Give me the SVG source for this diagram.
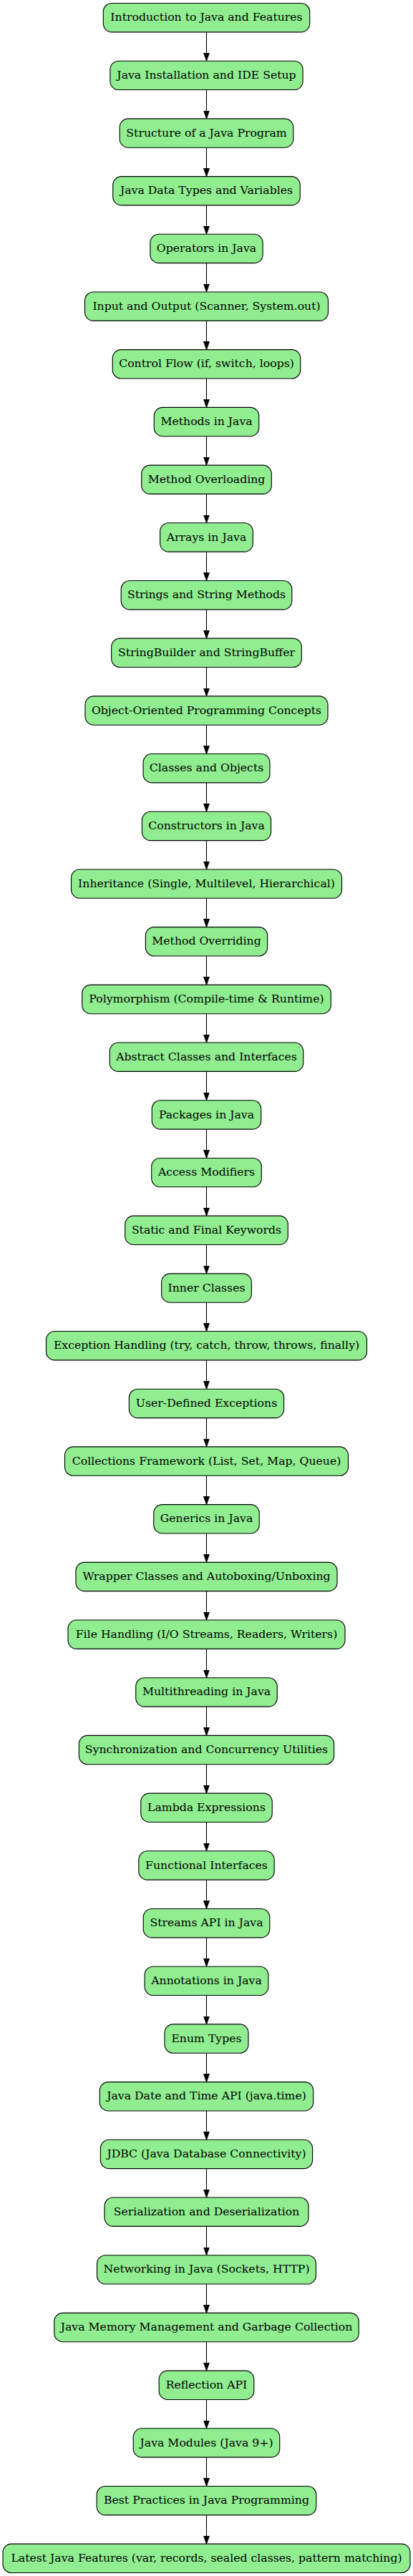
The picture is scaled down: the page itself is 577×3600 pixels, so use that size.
<svg xmlns="http://www.w3.org/2000/svg" width="577" height="3600" viewBox="0 0 577 3600">
<style>
.node rect{fill:#90ee90;stroke:#000;stroke-width:1.12}
.node text{font-family:"DejaVu Serif",serif;font-size:15.69px;text-anchor:middle;fill:#000}
.edges path{fill:none;stroke:#000;stroke-width:1.12;marker-end:url(#arr)}
</style>
<defs>
<marker id="arr" markerUnits="userSpaceOnUse" markerWidth="12" markerHeight="9" refX="11.2" refY="3.92" orient="auto" viewBox="0 0 12 8">
<path d="M0,0 L11.2,3.92 L0,7.84 z" fill="#000" stroke="#000" stroke-width="1"/>
</marker>
</defs>
<rect width="577" height="3600" fill="#fff"/>
<g class="edges">
<path d="M288.5,44.83 V85.19"/>
<path d="M288.5,125.53 V165.89"/>
<path d="M288.5,206.23 V246.58"/>
<path d="M288.5,286.92 V327.28"/>
<path d="M288.5,367.62 V407.98"/>
<path d="M288.5,448.32 V488.68"/>
<path d="M288.5,529.02 V569.37"/>
<path d="M288.5,609.71 V650.07"/>
<path d="M288.5,690.41 V730.77"/>
<path d="M288.5,771.11 V811.47"/>
<path d="M288.5,851.81 V892.16"/>
<path d="M288.5,932.50 V972.86"/>
<path d="M288.5,1013.20 V1053.56"/>
<path d="M288.5,1093.90 V1134.26"/>
<path d="M288.5,1174.60 V1214.95"/>
<path d="M288.5,1255.29 V1295.65"/>
<path d="M288.5,1335.99 V1376.35"/>
<path d="M288.5,1416.69 V1457.05"/>
<path d="M288.5,1497.39 V1537.74"/>
<path d="M288.5,1578.08 V1618.44"/>
<path d="M288.5,1658.78 V1699.14"/>
<path d="M288.5,1739.48 V1779.84"/>
<path d="M288.5,1820.18 V1860.53"/>
<path d="M288.5,1900.87 V1941.23"/>
<path d="M288.5,1981.57 V2021.93"/>
<path d="M288.5,2062.27 V2102.63"/>
<path d="M288.5,2142.97 V2183.33"/>
<path d="M288.5,2223.67 V2264.02"/>
<path d="M288.5,2304.36 V2344.72"/>
<path d="M288.5,2385.06 V2425.42"/>
<path d="M288.5,2465.76 V2506.12"/>
<path d="M288.5,2546.46 V2586.81"/>
<path d="M288.5,2627.15 V2667.51"/>
<path d="M288.5,2707.85 V2748.21"/>
<path d="M288.5,2788.55 V2828.91"/>
<path d="M288.5,2869.25 V2909.60"/>
<path d="M288.5,2949.94 V2990.30"/>
<path d="M288.5,3030.64 V3071.00"/>
<path d="M288.5,3111.34 V3151.70"/>
<path d="M288.5,3192.04 V3232.39"/>
<path d="M288.5,3272.73 V3313.09"/>
<path d="M288.5,3353.43 V3393.79"/>
<path d="M288.5,3434.13 V3474.49"/>
<path d="M288.5,3514.83 V3555.18"/>
</g>
<g id="n1" class="node" transform="translate(288.5,24.66)"><rect x="-144.2" y="-20.17" width="288.4" height="40.35" rx="12"/><text y="4.6">Introduction to Java and Features</text></g>
<g id="n2" class="node" transform="translate(288.5,105.36)"><rect x="-134.6" y="-20.17" width="269.2" height="40.35" rx="12"/><text y="4.6">Java Installation and IDE Setup</text></g>
<g id="n3" class="node" transform="translate(288.5,186.06)"><rect x="-121.3" y="-20.17" width="242.6" height="40.35" rx="12"/><text y="4.6">Structure of a Java Program</text></g>
<g id="n4" class="node" transform="translate(288.5,266.75)"><rect x="-130.75" y="-20.17" width="261.5" height="40.35" rx="12"/><text y="4.6">Java Data Types and Variables</text></g>
<g id="n5" class="node" transform="translate(288.5,347.45)"><rect x="-78.65" y="-20.17" width="157.3" height="40.35" rx="12"/><text y="4.6">Operators in Java</text></g>
<g id="n6" class="node" transform="translate(288.5,428.15)"><rect x="-170" y="-20.17" width="340" height="40.35" rx="12"/><text y="4.6">Input and Output (Scanner, System.out)</text></g>
<g id="n7" class="node" transform="translate(288.5,508.85)"><rect x="-131.25" y="-20.17" width="262.5" height="40.35" rx="12"/><text y="4.6">Control Flow (if, switch, loops)</text></g>
<g id="n8" class="node" transform="translate(288.5,589.54)"><rect x="-73.25" y="-20.17" width="146.5" height="40.35" rx="12"/><text y="4.6">Methods in Java</text></g>
<g id="n9" class="node" transform="translate(288.5,670.24)"><rect x="-90.8" y="-20.17" width="181.6" height="40.35" rx="12"/><text y="4.6">Method Overloading</text></g>
<g id="n10" class="node" transform="translate(288.5,750.94)"><rect x="-64.9" y="-20.17" width="129.8" height="40.35" rx="12"/><text y="4.6">Arrays in Java</text></g>
<g id="n11" class="node" transform="translate(288.5,831.64)"><rect x="-119.3" y="-20.17" width="238.6" height="40.35" rx="12"/><text y="4.6">Strings and String Methods</text></g>
<g id="n12" class="node" transform="translate(288.5,912.33)"><rect x="-132.85" y="-20.17" width="265.7" height="40.35" rx="12"/><text y="4.6">StringBuilder and StringBuffer</text></g>
<g id="n13" class="node" transform="translate(288.5,993.03)"><rect x="-169.5" y="-20.17" width="339" height="40.35" rx="12"/><text y="4.6">Object-Oriented Programming Concepts</text></g>
<g id="n14" class="node" transform="translate(288.5,1073.73)"><rect x="-88.45" y="-20.17" width="176.9" height="40.35" rx="12"/><text y="4.6">Classes and Objects</text></g>
<g id="n15" class="node" transform="translate(288.5,1154.43)"><rect x="-90.1" y="-20.17" width="180.2" height="40.35" rx="12"/><text y="4.6">Constructors in Java</text></g>
<g id="n16" class="node" transform="translate(288.5,1235.12)"><rect x="-189" y="-20.17" width="378" height="40.35" rx="12"/><text y="4.6">Inheritance (Single, Multilevel, Hierarchical)</text></g>
<g id="n17" class="node" transform="translate(288.5,1315.82)"><rect x="-85.15" y="-20.17" width="170.3" height="40.35" rx="12"/><text y="4.6">Method Overriding</text></g>
<g id="n18" class="node" transform="translate(288.5,1396.52)"><rect x="-173.8" y="-20.17" width="347.6" height="40.35" rx="12"/><text y="4.6">Polymorphism (Compile-time &amp; Runtime)</text></g>
<g id="n19" class="node" transform="translate(288.5,1477.22)"><rect x="-135.25" y="-20.17" width="270.5" height="40.35" rx="12"/><text y="4.6">Abstract Classes and Interfaces</text></g>
<g id="n20" class="node" transform="translate(288.5,1557.91)"><rect x="-76.25" y="-20.17" width="152.5" height="40.35" rx="12"/><text y="4.6">Packages in Java</text></g>
<g id="n21" class="node" transform="translate(288.5,1638.61)"><rect x="-76.8" y="-20.17" width="153.6" height="40.35" rx="12"/><text y="4.6">Access Modifiers</text></g>
<g id="n22" class="node" transform="translate(288.5,1719.31)"><rect x="-113.8" y="-20.17" width="227.6" height="40.35" rx="12"/><text y="4.6">Static and Final Keywords</text></g>
<g id="n23" class="node" transform="translate(288.5,1800.01)"><rect x="-62.85" y="-20.17" width="125.7" height="40.35" rx="12"/><text y="4.6">Inner Classes</text></g>
<g id="n24" class="node" transform="translate(288.5,1880.70)"><rect x="-224" y="-20.17" width="448" height="40.35" rx="12"/><text y="4.6">Exception Handling (try, catch, throw, throws, finally)</text></g>
<g id="n25" class="node" transform="translate(288.5,1961.40)"><rect x="-108.15" y="-20.17" width="216.3" height="40.35" rx="12"/><text y="4.6">User-Defined Exceptions</text></g>
<g id="n26" class="node" transform="translate(288.5,2042.10)"><rect x="-198" y="-20.17" width="396" height="40.35" rx="12"/><text y="4.6">Collections Framework (List, Set, Map, Queue)</text></g>
<g id="n27" class="node" transform="translate(288.5,2122.80)"><rect x="-73.75" y="-20.17" width="147.5" height="40.35" rx="12"/><text y="4.6">Generics in Java</text></g>
<g id="n28" class="node" transform="translate(288.5,2203.50)"><rect x="-182.55" y="-20.17" width="365.1" height="40.35" rx="12"/><text y="4.6">Wrapper Classes and Autoboxing/Unboxing</text></g>
<g id="n29" class="node" transform="translate(288.5,2284.19)"><rect x="-193.5" y="-20.17" width="387" height="40.35" rx="12"/><text y="4.6">File Handling (I/O Streams, Readers, Writers)</text></g>
<g id="n30" class="node" transform="translate(288.5,2364.89)"><rect x="-98.75" y="-20.17" width="197.5" height="40.35" rx="12"/><text y="4.6">Multithreading in Java</text></g>
<g id="n31" class="node" transform="translate(288.5,2445.59)"><rect x="-178.15" y="-20.17" width="356.3" height="40.35" rx="12"/><text y="4.6">Synchronization and Concurrency Utilities</text></g>
<g id="n32" class="node" transform="translate(288.5,2526.29)"><rect x="-91.75" y="-20.17" width="183.5" height="40.35" rx="12"/><text y="4.6">Lambda Expressions</text></g>
<g id="n33" class="node" transform="translate(288.5,2606.98)"><rect x="-94.65" y="-20.17" width="189.3" height="40.35" rx="12"/><text y="4.6">Functional Interfaces</text></g>
<g id="n34" class="node" transform="translate(288.5,2687.68)"><rect x="-88.3" y="-20.17" width="176.6" height="40.35" rx="12"/><text y="4.6">Streams API in Java</text></g>
<g id="n35" class="node" transform="translate(288.5,2768.38)"><rect x="-86.4" y="-20.17" width="172.8" height="40.35" rx="12"/><text y="4.6">Annotations in Java</text></g>
<g id="n36" class="node" transform="translate(288.5,2849.08)"><rect x="-58.5" y="-20.17" width="117" height="40.35" rx="12"/><text y="4.6">Enum Types</text></g>
<g id="n37" class="node" transform="translate(288.5,2929.77)"><rect x="-149.2" y="-20.17" width="298.4" height="40.35" rx="12"/><text y="4.6">Java Date and Time API (java.time)</text></g>
<g id="n38" class="node" transform="translate(288.5,3010.47)"><rect x="-148.1" y="-20.17" width="296.2" height="40.35" rx="12"/><text y="4.6">JDBC (Java Database Connectivity)</text></g>
<g id="n39" class="node" transform="translate(288.5,3091.17)"><rect x="-142.5" y="-20.17" width="285" height="40.35" rx="12"/><text y="4.6">Serialization and Deserialization</text></g>
<g id="n40" class="node" transform="translate(288.5,3171.87)"><rect x="-153" y="-20.17" width="306" height="40.35" rx="12"/><text y="4.6">Networking in Java (Sockets, HTTP)</text></g>
<g id="n41" class="node" transform="translate(288.5,3252.56)"><rect x="-212.75" y="-20.17" width="425.5" height="40.35" rx="12"/><text y="4.6">Java Memory Management and Garbage Collection</text></g>
<g id="n42" class="node" transform="translate(288.5,3333.26)"><rect x="-66.3" y="-20.17" width="132.6" height="40.35" rx="12"/><text y="4.6">Reflection API</text></g>
<g id="n43" class="node" transform="translate(288.5,3413.96)"><rect x="-102.25" y="-20.17" width="204.5" height="40.35" rx="12"/><text y="4.6">Java Modules (Java 9+)</text></g>
<g id="n44" class="node" transform="translate(288.5,3494.66)"><rect x="-153.35" y="-20.17" width="306.7" height="40.35" rx="12"/><text y="4.6">Best Practices in Java Programming</text></g>
<g id="n45" class="node" transform="translate(288.5,3575.35)"><rect x="-284.5" y="-20.17" width="569" height="40.35" rx="12"/><text y="4.6">Latest Java Features (var, records, sealed classes, pattern matching)</text></g>
</svg>
